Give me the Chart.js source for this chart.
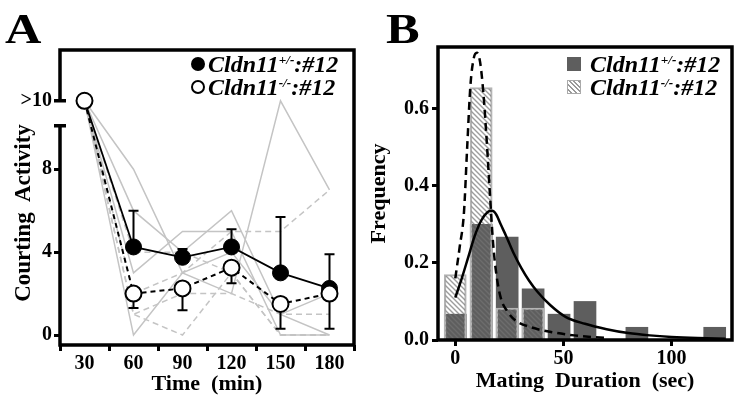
<!DOCTYPE html>
<html lang="en">
<head>
<meta charset="UTF-8">
<title>Courting activity and mating duration</title>
<script src="https://cdn.jsdelivr.net/npm/chart.js"></script>
<style>
  body { margin: 0; background: #fff; }
  #wrap { position: relative; width: 738px; height: 400px; overflow: hidden;
          font-family: 'Liberation Serif', 'Times New Roman', serif; color: #000; }
  canvas { position: absolute; top: 0; }
  .letter { position: absolute; font-weight: bold; font-size: 42px; line-height: 40px;
            transform: scaleX(1.2); transform-origin: left top; }
  .leg { position: absolute; font-weight: bold; font-style: italic; font-size: 24px;
         line-height: 24px; white-space: nowrap; }
  .leg .s { position: relative; top: -0.6em; font-size: 0.55em; }
  .mk { position: absolute; box-sizing: border-box; }
  .ytitle { position: absolute; font-weight: bold; font-size: 23px; line-height: 23px;
            white-space: pre; transform: translate(-50%, -50%) rotate(-90deg); }
</style>
</head>
<body>
<div id="wrap">
  <canvas id="chartA" width="365" height="400" style="left:0"></canvas>
  <canvas id="chartB" width="373" height="400" style="left:365px"></canvas>

  <div class="letter" style="left:5px; top:9px">A</div>
  <div class="letter" style="left:386px; top:9px">B</div>

  <div class="ytitle" style="left:22px; top:213px">Courting  Activity</div>

  <!-- legend A -->
  <div class="mk" style="left:191px; top:57px; width:14px; height:14px; border-radius:50%; background:#000"></div>
  <div class="mk" style="left:191px; top:80px; width:14px; height:14px; border-radius:50%; background:#fff; border:2px solid #000"></div>
  <div class="leg" style="left:208px; top:52px">Cldn11<span class="s">+/-</span>:#12</div>
  <div class="leg" style="left:208px; top:75px">Cldn11<span class="s">-/-</span>:#12</div>

  <!-- legend B -->
  <div class="mk" style="left:567px; top:57px; width:14px; height:14px; background:#5e5e5e"></div>
  <div class="mk" style="left:567px; top:80px; width:14px; height:14px; border:1px solid #aaa;
       background:repeating-linear-gradient(45deg, #fff 0 2px, #999 2px 3.3px)"></div>
  <div class="leg" style="left:590px; top:52px">Cldn11<span class="s">+/-</span>:#12</div>
  <div class="leg" style="left:590px; top:75px">Cldn11<span class="s">-/-</span>:#12</div>
</div>

<script>
// ---- panel A: courting activity ----
const timeLabels = ['30', '60', '90', '120', '150', '180'];
const OVER = 11.3;          // where ">10" sits, above the axis break
const BREAK_LOW = 10.1;     // lower end of the axis break
const yTickValuesA = [0, 4, 8, OVER];
const yTickLabelsA = ['0', '4', '8', '>10'];

const hetMean = [OVER, 4.25, 3.75, 4.25, 3.0, 2.25];
const koMean = [OVER, 2.0, 2.25, 3.25, 1.5, 2.0];
const hetErrTop = [null, 6.0, 4.15, 5.1, 5.7, 3.9];
const koErrBottom = [null, 1.3, 1.2, 2.5, 0.3, 0.3];

// single flies (grey)
const hetFly1 = [OVER, 8, 3, 2, OVER, 7];
const hetFly2 = [OVER, 3, 5, 5, 0, 0];
const hetFly3 = [OVER, 6, 4, 6, 1, 2];
const hetFly4 = [OVER, 0, 3, 4, 1, 0];
const koFly1 = [OVER, 2, 3, 5, 5, 7];
const koFly2 = [OVER, 1, 2, 2, 1, 1];
const koFly3 = [OVER, 1, 0, 3, 0, 0];
const koFly4 = [OVER, 4, 4, 3, 0, 0];

// ---- panel B: mating duration ----
const binCenters = [0, 12, 24, 36, 48, 60, 72, 84, 96, 108, 120];
const hetFreq = [0.067, 0.30, 0.267, 0.133, 0.067, 0.10, 0, 0.033, 0, 0, 0.033];
const koFreq = [0.17, 0.655, 0.083, 0.083, 0, 0, 0, 0, 0, 0, 0];
const koFitX = [0, 2, 4, 5.5, 7, 8.5, 10, 11.5, 13, 14.5, 16, 17.5, 19, 21, 24, 28, 35, 45, 55, 70];
const koFitY = [0.16, 0.24, 0.33, 0.50, 0.66, 0.73, 0.745, 0.72, 0.64, 0.52, 0.38, 0.25, 0.17, 0.11, 0.075, 0.05, 0.033, 0.02, 0.012, 0.005];
const hetFitX = [0, 3, 6, 9, 12, 15, 17, 19, 21, 23.5, 27, 30.5, 34, 38, 44, 51, 60, 70, 80, 90, 100, 112, 125];
const hetFitY = [0.11, 0.16, 0.215, 0.27, 0.31, 0.332, 0.335, 0.325, 0.30, 0.27, 0.225, 0.187, 0.155, 0.125, 0.09, 0.06, 0.042, 0.028, 0.018, 0.012, 0.008, 0.005, 0.003];
const durationTicks = [0, 50, 100];
const freqTicks = [0, 0.2, 0.4, 0.6];

const SERIF = "'Liberation Serif', 'Times New Roman', serif";
const tickFont = { family: SERIF, weight: 'bold', size: 20 };
const titleFont = { family: SERIF, weight: 'bold', size: 22 };
const GREY = '#c4c4c4';

// error bars drawn just before their dataset so markers sit on top
const errEnds = [koErrBottom, hetErrTop];
const errorBars = {
    id: 'errorBars',
    beforeDatasetDraw(chart, args) {
        const ends = errEnds[args.index];
        if (!ends) return;
        const ctx = chart.ctx, y = chart.scales.y;
        ctx.save();
        ctx.strokeStyle = '#000';
        ctx.lineWidth = 2;
        args.meta.data.forEach((pt, i) => {
            if (ends[i] == null) return;
            const ye = y.getPixelForValue(ends[i]);
            ctx.beginPath();
            ctx.moveTo(pt.x, pt.y); ctx.lineTo(pt.x, ye);
            ctx.moveTo(pt.x - 5, ye); ctx.lineTo(pt.x + 5, ye);
            ctx.stroke();
        });
        ctx.restore();
    }
};

// box with the broken y axis
const frameA = {
    id: 'frameA',
    afterDraw(chart) {
        const { ctx, chartArea: a, scales: { y } } = chart;
        const yOver = y.getPixelForValue(OVER), yBreak = y.getPixelForValue(BREAK_LOW);
        ctx.save();
        ctx.strokeStyle = '#000';
        ctx.lineWidth = 3.5;
        ctx.beginPath();
        ctx.moveTo(a.left, yOver);
        ctx.lineTo(a.left, a.top);
        ctx.lineTo(a.right, a.top);
        ctx.lineTo(a.right, a.bottom);
        ctx.lineTo(a.left, a.bottom);
        ctx.lineTo(a.left, yBreak);
        ctx.stroke();
        ctx.beginPath();
        ctx.moveTo(a.left - 6, yOver); ctx.lineTo(a.left + 6, yOver);
        ctx.moveTo(a.left - 6, yBreak); ctx.lineTo(a.left + 6, yBreak);
        ctx.stroke();
        ctx.restore();
    }
};

const frameB = {
    id: 'frameB',
    afterDraw(chart) {
        const { ctx, chartArea: a } = chart;
        ctx.save();
        ctx.strokeStyle = '#000';
        ctx.lineWidth = 3.5;
        ctx.strokeRect(a.left, a.top, a.right - a.left, a.bottom - a.top);
        ctx.restore();
    }
};

function flyLine(data, dashed) {
    return { data: data, borderColor: GREY, borderWidth: 1.5, borderDash: dashed ? [6, 4] : [],
             pointRadius: 0, tension: 0 };
}

new Chart(document.getElementById('chartA'), {
    type: 'line',
    data: {
        labels: timeLabels,
        datasets: [
            { label: 'Cldn11-/-:#12', data: koMean, borderColor: '#000', borderWidth: 2, borderDash: [5, 4],
              pointRadius: 8, pointBackgroundColor: '#fff', pointBorderColor: '#000', pointBorderWidth: 2 },
            { label: 'Cldn11+/-:#12', data: hetMean, borderColor: '#000', borderWidth: 1.8,
              pointRadius: 8, pointBackgroundColor: '#000', pointBorderColor: '#000', pointBorderWidth: 1 },
            flyLine(hetFly1, false), flyLine(hetFly2, false), flyLine(hetFly3, false), flyLine(hetFly4, false),
            flyLine(koFly1, true), flyLine(koFly2, true), flyLine(koFly3, true), flyLine(koFly4, true)
        ]
    },
    options: {
        responsive: false,
        animation: false,
        devicePixelRatio: 1,
        layout: { padding: { top: 50, right: 11, left: 0, bottom: 0 } },
        plugins: { legend: { display: false }, tooltip: { enabled: false } },
        scales: {
            x: {
                type: 'category',
                offset: true,
                grid: { offset: true, drawOnChartArea: false, tickLength: 6, tickWidth: 3, tickColor: '#000' },
                border: { display: false },
                ticks: { font: tickFont, color: '#000', padding: 1, maxRotation: 0, autoSkip: false },
                title: { display: true, text: 'Time  (min)', font: titleFont, color: '#000', padding: { top: 0, bottom: 2 } },
                afterFit: s => { s.height = 55; }
            },
            y: {
                min: -0.48,
                max: 13.75,
                afterBuildTicks: s => { s.ticks = yTickValuesA.map(v => ({ value: v })); },
                grid: { drawOnChartArea: false, tickLength: 6, tickWidth: 3, tickColor: '#000' },
                border: { display: false },
                ticks: { font: tickFont, color: '#000', padding: 2,
                         callback: v => yTickLabelsA[yTickValuesA.indexOf(v)] },
                afterFit: s => { s.width = 60; }
            }
        }
    },
    plugins: [errorBars, frameA]
});

function makeHatch() {
    const c = document.createElement('canvas');
    c.width = 5; c.height = 5;
    const g = c.getContext('2d');
    g.strokeStyle = 'rgba(115,115,115,0.7)';
    g.lineWidth = 1.4;
    g.beginPath();
    for (let k = -1; k <= 1; k++) {
        g.moveTo(k * 5 - 1, -1);
        g.lineTo(k * 5 + 6, 6);
    }
    g.stroke();
    return g.createPattern(c, 'repeat');
}

new Chart(document.getElementById('chartB'), {
    type: 'bar',
    data: {
        datasets: [
            { type: 'line', label: 'fit -/-', data: koFitX.map((x, i) => ({ x: x, y: koFitY[i] })),
              borderColor: '#000', borderWidth: 2.5, borderDash: [8, 5], pointRadius: 0,
              cubicInterpolationMode: 'monotone', order: 0 },
            { type: 'line', label: 'fit +/-', data: hetFitX.map((x, i) => ({ x: x, y: hetFitY[i] })),
              borderColor: '#000', borderWidth: 2.5, pointRadius: 0,
              cubicInterpolationMode: 'monotone', order: 0 },
            { label: 'Cldn11-/-:#12', data: binCenters.map((x, i) => ({ x: x, y: koFreq[i] || null })),
              backgroundColor: makeHatch(), borderColor: '#b4b4b4', borderWidth: 1.5,
              grouped: false, barThickness: 22, order: 1 },
            { label: 'Cldn11+/-:#12', data: binCenters.map((x, i) => ({ x: x, y: hetFreq[i] || null })),
              backgroundColor: '#5e5e5e', borderWidth: 0,
              grouped: false, barThickness: 22, order: 2 }
        ]
    },
    options: {
        responsive: false,
        animation: false,
        devicePixelRatio: 1,
        layout: { padding: { top: 47, right: 6, left: 0, bottom: 0 } },
        plugins: { legend: { display: false }, tooltip: { enabled: false } },
        scales: {
            x: {
                type: 'linear',
                offset: false,
                min: -8,
                max: 128,
                afterBuildTicks: s => { s.ticks = durationTicks.map(v => ({ value: v })); },
                grid: { offset: false, drawOnChartArea: false, tickLength: 6, tickWidth: 3, tickColor: '#000' },
                border: { display: false },
                ticks: { font: tickFont, color: '#000', padding: 1, maxRotation: 0 },
                title: { display: true, text: 'Mating  Duration  (sec)', font: titleFont, color: '#000', padding: { top: 0, bottom: 5 } },
                afterFit: s => { s.height = 60; }
            },
            y: {
                min: 0,
                max: 0.76,
                afterBuildTicks: s => { s.ticks = freqTicks.map(v => ({ value: v })); },
                grid: { drawOnChartArea: false, tickLength: 6, tickWidth: 3, tickColor: '#000' },
                border: { display: false },
                ticks: { font: tickFont, color: '#000', padding: 3, callback: v => v.toFixed(1) },
                title: { display: true, text: 'Frequency', font: titleFont, color: '#000', padding: { top: 1, bottom: 0 } },
                afterFit: s => { s.width = 73; }
            }
        }
    },
    plugins: [frameB]
});
</script>
</body>
</html>
